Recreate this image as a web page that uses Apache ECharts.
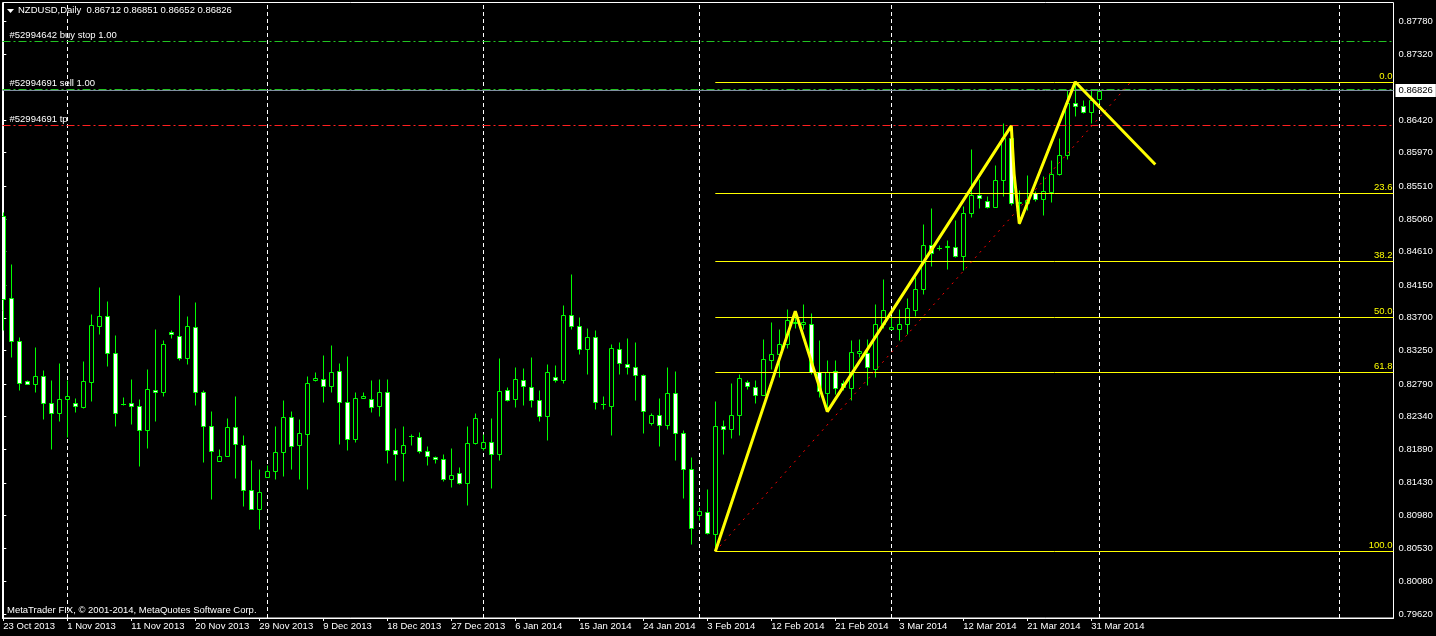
<!DOCTYPE html>
<html><head><meta charset="utf-8">
<script src="https://cdn.jsdelivr.net/npm/echarts@6/dist/echarts.min.js"></script>
<style>html,body{margin:0;padding:0;background:#000;}#c{width:1436px;height:636px;}</style>
</head><body><div id="c"></div>
<script>
const symbolName = 'NZDUSD,Daily';
// Daily bars, index 0 = 23 Oct 2013 ... 137 = 1 Apr 2014 (Sunday bars included)
const opens = [0.85095,0.83977,0.83385,0.82825,0.82794,0.82903,0.82532,0.82394,0.82587,0.82532,
0.82472,0.82816,0.83591,0.83729,0.83219,0.82519,0.82523,0.82491,0.82162,0.82711,
0.82678,0.83509,0.83454,0.83151,0.83577,0.82683,0.82216,0.81735,0.81803,0.82202,
0.81955,0.81337,0.81075,0.81514,0.81597,0.81858,0.82339,0.81955,0.82106,0.82839,
0.82862,0.82761,0.82972,0.82546,0.82031,0.82601,0.82587,0.82486,0.82683,0.81887,
0.81839,0.82069,0.82064,0.81872,0.81789,0.81762,0.81481,0.81569,0.81427,0.81973,
0.81914,0.81996,0.81831,0.82711,0.82587,0.82849,0.82752,0.82574,0.82353,0.82889,
0.82849,0.83743,0.83591,0.83275,0.83440,0.82519,0.82491,0.83275,0.83069,0.83027,
0.82917,0.82257,0.82367,0.82230,0.82669,0.82119,0.81625,0.80992,0.81033,0.80731,
0.82211,0.82169,0.82367,0.82816,0.82747,0.82642,0.83124,0.83206,0.83344,0.83627,
0.83619,0.83619,0.82953,0.82669,0.82972,0.82802,0.82739,0.83219,0.83219,0.83000,
0.83619,0.83550,0.83550,0.83619,0.83802,0.84100,0.84705,0.84664,0.84668,0.84672,
0.84549,0.85140,0.85383,0.85310,0.85222,0.85590,0.86171,0.85273,0.85277,0.85420,
0.85338,0.85429,0.85682,0.85943,0.86658,0.86612,0.86529,0.86712];
const highs = [0.85154,0.84434,0.83431,0.82839,0.83293,0.82976,0.82839,0.83073,0.82839,0.82591,
0.83100,0.83747,0.84118,0.83925,0.83458,0.82609,0.82853,0.82577,0.82990,0.83540,
0.83389,0.83537,0.84008,0.83720,0.83912,0.82701,0.82412,0.81890,0.82316,0.82619,
0.82082,0.81739,0.81615,0.81680,0.82207,0.82564,0.82412,0.82302,0.82894,0.82949,
0.83182,0.83320,0.83073,0.83169,0.82674,0.82674,0.82839,0.82853,0.82853,0.82179,
0.82207,0.82100,0.82133,0.81941,0.81793,0.81821,0.81904,0.81643,0.82207,0.82394,
0.82096,0.82316,0.83141,0.82743,0.83027,0.83004,0.83155,0.82701,0.83059,0.83045,
0.83870,0.84297,0.83715,0.83564,0.83537,0.82628,0.83344,0.83371,0.83427,0.83362,
0.82931,0.82394,0.82595,0.83018,0.82962,0.82151,0.81784,0.81097,0.81340,0.82550,
0.82299,0.82798,0.82921,0.82843,0.82843,0.83413,0.83646,0.83550,0.83815,0.83761,
0.83894,0.83770,0.83400,0.83124,0.83124,0.82839,0.83389,0.83413,0.83413,0.83884,
0.84228,0.83720,0.83815,0.83977,0.84260,0.84994,0.85204,0.84705,0.84774,0.85039,
0.85232,0.86026,0.85613,0.85370,0.85796,0.86378,0.86346,0.85452,0.85658,0.85442,
0.85645,0.85865,0.86177,0.86837,0.86944,0.86690,0.86837,0.86851];
const lows = [0.83527,0.83159,0.82701,0.82784,0.82674,0.82306,0.81894,0.82279,0.82059,0.82403,
0.82464,0.82554,0.83472,0.83036,0.82211,0.82499,0.82238,0.81661,0.81908,0.82279,
0.82623,0.83421,0.83118,0.83063,0.82499,0.81716,0.81206,0.81730,0.81795,0.81495,
0.81111,0.81070,0.80793,0.81505,0.81481,0.81523,0.81619,0.81481,0.81344,0.82830,
0.82541,0.82678,0.81963,0.81881,0.81991,0.82595,0.82403,0.82348,0.81702,0.81468,
0.81454,0.81945,0.81839,0.81674,0.81702,0.81454,0.81372,0.81413,0.81124,0.81963,
0.81876,0.81358,0.81749,0.82554,0.82472,0.82499,0.82472,0.82279,0.82018,0.82821,
0.82802,0.83544,0.83200,0.82925,0.82444,0.82444,0.82086,0.82931,0.82931,0.82568,
0.82114,0.82224,0.81936,0.82169,0.81743,0.81220,0.80587,0.80924,0.80721,0.80487,
0.81831,0.82045,0.82092,0.82725,0.82527,0.82632,0.82994,0.82884,0.83283,0.83554,
0.83550,0.82931,0.82609,0.82426,0.82656,0.82701,0.82574,0.83159,0.82770,0.82884,
0.83564,0.83540,0.83400,0.83482,0.83724,0.84032,0.84411,0.84636,0.84365,0.84535,
0.84352,0.85085,0.85208,0.85208,0.85218,0.85370,0.85245,0.84994,0.85177,0.85305,
0.85108,0.85291,0.85658,0.85878,0.86470,0.86520,0.86378,0.86652];
const closes = [0.83963,0.83385,0.82807,0.82794,0.82903,0.82532,0.82394,0.82587,0.82628,0.82491,
0.82825,0.83605,0.83729,0.83219,0.82394,0.82519,0.82491,0.82162,0.82725,0.82683,
0.83344,0.83482,0.83151,0.83591,0.82683,0.82216,0.81872,0.81803,0.82202,0.81969,
0.81337,0.81075,0.81308,0.81597,0.81858,0.82339,0.81941,0.82119,0.82807,0.82866,
0.82766,0.82958,0.82546,0.82031,0.82601,0.82619,0.82477,0.82683,0.81881,0.81831,
0.81955,0.82069,0.81866,0.81798,0.81762,0.81481,0.81542,0.81427,0.81982,0.82326,
0.81996,0.81831,0.82697,0.82574,0.82862,0.82766,0.82574,0.82353,0.82958,0.82849,
0.83743,0.83591,0.83275,0.83440,0.82546,0.82519,0.83289,0.83082,0.83027,0.82917,
0.82422,0.82367,0.82230,0.82669,0.82119,0.81625,0.80813,0.81047,0.80744,0.82216,
0.82175,0.82367,0.82870,0.82757,0.82642,0.83137,0.83206,0.83344,0.83675,0.83646,
0.83637,0.82953,0.82687,0.82953,0.82739,0.82747,0.83233,0.83241,0.83027,0.83619,
0.83812,0.83568,0.83619,0.83839,0.84100,0.84705,0.84595,0.84664,0.84688,0.84554,
0.85145,0.85383,0.85352,0.85222,0.85590,0.86171,0.85282,0.85287,0.85324,0.85338,
0.85438,0.85682,0.85943,0.86658,0.86612,0.86529,0.86699,0.86826];

const xTickIdx = [0,8,16,24,32,40,48,56,64,72,80,88,96,104,112,120,128,136];
const xTickLabels = ['23 Oct 2013','1 Nov 2013','11 Nov 2013','20 Nov 2013','29 Nov 2013','9 Dec 2013',
  '18 Dec 2013','27 Dec 2013','6 Jan 2014','15 Jan 2014','24 Jan 2014','3 Feb 2014','12 Feb 2014',
  '21 Feb 2014','3 Mar 2014','12 Mar 2014','21 Mar 2014','31 Mar 2014'];
const monthStartIdx = [8,33,60,87,111,137,167];
const yTickValues = [0.87780,0.87320,0.86420,0.85970,0.85510,0.85060,0.84610,0.84150,0.83700,
  0.83250,0.82790,0.82340,0.81890,0.81430,0.80980,0.80530,0.80080,0.79620];

const fibLevels = [0, 23.6, 38.2, 50, 61.8, 100];
const fibStartIdx = 89;
const fibLow = 0.80487;
const fibHigh = 0.86935;

const zigzagIdx = [89, 99, 103, 126, 126.35, 127, 134, 144];
const zigzagPrice = [0.80487, 0.83792, 0.82410, 0.86340, 0.85680, 0.84994, 0.86944, 0.85809];

const trendIdx = [89, 140.8];
const trendPrice = [0.80487, 0.86927];

const pendingLabels = ['#52994642 buy stop 1.00', '#52994691 sell 1.00'];
const pendingPrices = [0.87500, 0.86840];
const tpLabels = ['#52994691 tp'];
const tpPrices = [0.86345];

const X_MIN = -0.1, X_MAX = 173.775;
const Y_MIN = 0.795713, Y_MAX = 0.880363;

const FONT = 'Liberation Sans';
const GREEN = '#00ff00';
const n = closes.length;
const last = n - 1;
const bid = closes[last];
const candleData = closes.map((c, i) => [i, opens[i], highs[i], lows[i], c]);
const hidden = [[X_MIN, Y_MIN]];

function renderCandle(params, api) {
  const i = api.value(0), o = api.value(1), h = api.value(2), l = api.value(3), c = api.value(4);
  const pO = api.coord([i, o]), pC = api.coord([i, c]), pH = api.coord([i, h]), pL = api.coord([i, l]);
  const x = Math.floor(pO[0]) + 0.5;
  const s = v => Math.round(v) + 0.5;
  const yH = s(pH[1]), yL = s(pL[1]), yO = s(pO[1]), yC = s(pC[1]);
  const top = Math.min(yO, yC), bot = Math.max(yO, yC);
  const children = [{type: 'line', shape: {x1: x, y1: yH, x2: x, y2: yL}, style: {stroke: GREEN, lineWidth: 1}}];
  if (bot - top < 1) {
    children.push({type: 'line', shape: {x1: x - 2.5, y1: top, x2: x + 2.5, y2: top}, style: {stroke: GREEN, lineWidth: 1}});
  } else {
    children.push({type: 'rect', shape: {x: x - 2, y: top, width: 4, height: bot - top},
      style: {fill: c > o ? '#000' : '#fff', stroke: GREEN, lineWidth: 1}});
  }
  return {type: 'group', children};
}

const f5 = v => v.toFixed(5);
const header = symbolName + '  ' + f5(opens[last]) + ' ' + f5(highs[last]) + ' ' + f5(lows[last]) + ' ' + f5(closes[last]);

const orderLabelStyle = {show: true, position: 'insideStartTop', color: '#fff',
  fontFamily: FONT, fontSize: 9.5, distance: [7, 1]};
const mkOrders = (labels, prices) => labels.map((t, k) => ({
  yAxis: prices[k], label: Object.assign({}, orderLabelStyle, {formatter: t})
}));

function markerSeries(z, markLine) {
  return {type: 'line', data: hidden, showSymbol: false, lineStyle: {opacity: 0}, silent: true, z,
    markLine: Object.assign({silent: true, symbol: ['none', 'none'], z, precision: 6, animation: false}, markLine)};
}

const fibLines = fibLevels.map(lv => {
  const p = fibHigh - (fibHigh - fibLow) * lv / 100;
  return [
    {coord: [fibStartIdx, p], label: {show: true, position: 'insideEndTop', formatter: lv.toFixed(1),
      color: '#ffff00', fontFamily: FONT, fontSize: 9.5, distance: [1, 1]}},
    {coord: [X_MAX, p]}
  ];
});

const chart = echarts.init(document.getElementById('c'), null, {renderer: 'canvas'});
chart.setOption({
  backgroundColor: '#000',
  animation: false,
  grid: {left: 2.5, right: 42.5, top: 2.5, bottom: 18, show: true, borderColor: '#fff', borderWidth: 1, backgroundColor: '#000'},
  xAxis: {
    type: 'value', min: X_MIN, max: X_MAX,
    axisLine: {show: true, lineStyle: {color: '#fff'}},
    axisTick: {show: true, customValues: xTickIdx, length: 3, lineStyle: {color: '#fff'}},
    axisLabel: {customValues: xTickIdx, formatter: v => xTickLabels[xTickIdx.indexOf(Math.round(v))] || '',
      color: '#fff', fontFamily: FONT, fontSize: 9.5, align: 'left', margin: 3},
    splitLine: {show: false}
  },
  yAxis: {
    type: 'value', position: 'right', min: Y_MIN, max: Y_MAX,
    axisLine: {show: true, lineStyle: {color: '#fff'}},
    axisTick: {show: true, customValues: yTickValues, length: 3, lineStyle: {color: '#fff'}},
    axisLabel: {customValues: yTickValues, formatter: v => v.toFixed(5), color: '#fff',
      fontFamily: FONT, fontSize: 9.5, margin: 5},
    splitLine: {show: false}
  },
  graphic: [
    {type: 'polygon', shape: {points: [[7, 9], [14, 9], [10.5, 13]]}, style: {fill: '#fff'}, z: 100},
    {type: 'text', x: 18, y: 5, style: {text: header, fill: '#fff', font: '9.5px "' + FONT + '"'}, z: 100},
    {type: 'text', x: 7, y: 605, style: {text: 'MetaTrader FIX, © 2001-2014, MetaQuotes Software Corp.', fill: '#fff', font: '9.5px "' + FONT + '"'}, z: 100}
  ],
  series: [
    markerSeries(1, {label: {show: false}, lineStyle: {color: '#ffffff', type: [4, 3], width: 1, opacity: 1},
      data: monthStartIdx.map(v => ({xAxis: v}))}),
    {
      type: 'custom', data: candleData, renderItem: renderCandle, clip: true, z: 2,
      encode: {x: 0, y: [1, 2, 3, 4]}
    },
    markerSeries(3, {lineStyle: {color: '#7f8fa0', type: 'solid', width: 1, opacity: 1},
      data: [{yAxis: bid, label: {show: true, position: 'end', formatter: f5(bid), color: '#000',
        backgroundColor: '#fff', fontFamily: FONT, fontSize: 9.5, padding: [2, 3, 1, 3], distance: 2}}]}),
    markerSeries(3, {lineStyle: {color: '#22c322', type: [8, 3, 2, 3], width: 1, opacity: 1},
      data: mkOrders(pendingLabels, pendingPrices)}),
    markerSeries(3, {lineStyle: {color: '#ff2020', type: [8, 3, 2, 3], width: 1, opacity: 1},
      data: mkOrders(tpLabels, tpPrices)}),
    markerSeries(4, {lineStyle: {color: '#ffff00', type: 'solid', width: 1, opacity: 1}, data: fibLines}),
    {
      type: 'line', data: trendIdx.map((x, k) => [x, trendPrice[k]]), showSymbol: false, silent: true, z: 5,
      lineStyle: {color: '#ff0000', width: 1, type: [2, 5]}
    },
    {
      type: 'line', data: zigzagIdx.map((x, k) => [x, zigzagPrice[k]]), showSymbol: false, silent: true, z: 6,
      lineStyle: {color: '#ffff00', width: 3}
    }
  ]
});
</script>
</body></html>
